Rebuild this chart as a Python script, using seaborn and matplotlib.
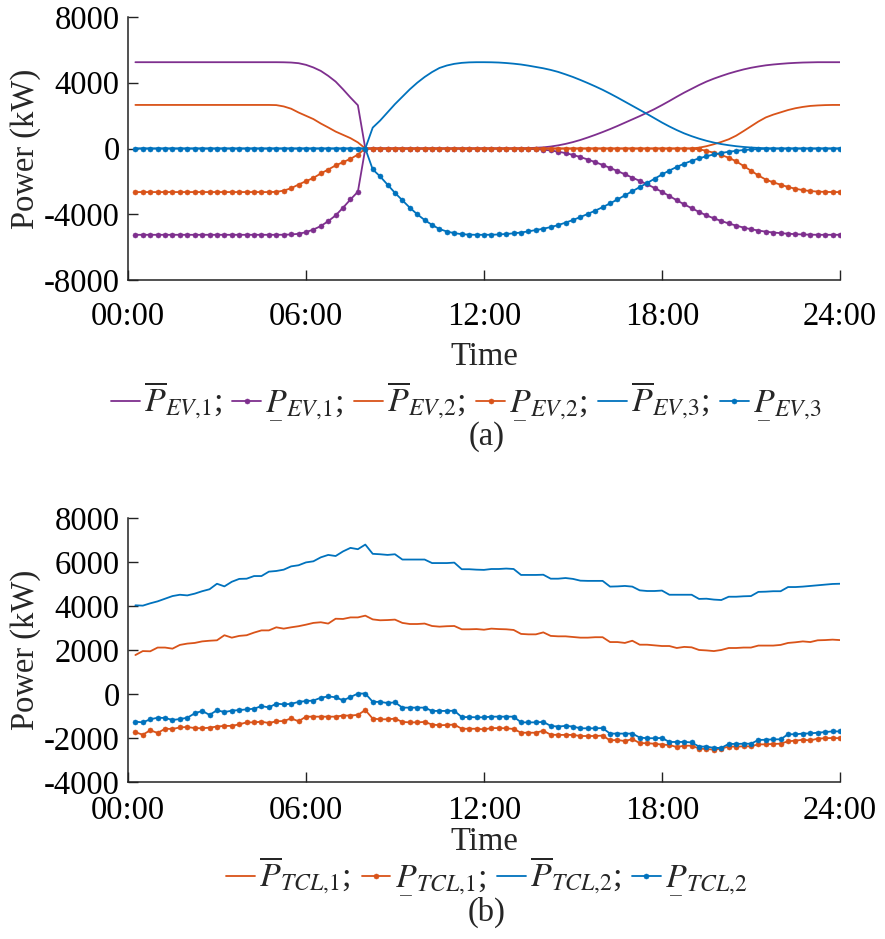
import numpy as np
import matplotlib
matplotlib.use("Agg")
import matplotlib.pyplot as plt
import seaborn as sns

# 15-min time steps, 96 per day (hours)
t = np.arange(1, 97) * 0.25

# ---- (a) EV bounds, kW ----
ev1_up = [5250, 5250, 5250, 5250, 5250, 5250, 5250, 5250,
          5250, 5250, 5250, 5250, 5250, 5250, 5250, 5250,
          5250, 5250, 5250, 5250, 5245, 5230, 5190, 5090,
          4930, 4720, 4420, 4070, 3600, 3100, 2630, 0,
          0, 0, 0, 0, 0, 0, 0, 0,
          0, 0, 0, 0, 0, 0, 0, 0,
          0, 0, 0, 5, 15, 25, 45, 70,
          120, 190, 280, 390, 520, 670, 830, 1000,
          1180, 1370, 1570, 1770, 1970, 2180, 2400, 2640,
          2890, 3150, 3400, 3630, 3860, 4070, 4250, 4410,
          4560, 4690, 4810, 4910, 4990, 5060, 5110, 5150,
          5185, 5210, 5230, 5240, 5250, 5250, 5250, 5250]
ev1_low = [-5250, -5250, -5250, -5250, -5250, -5250, -5250, -5250,
           -5250, -5250, -5250, -5250, -5250, -5250, -5250, -5250,
           -5250, -5250, -5250, -5250, -5245, -5230, -5190, -5090,
           -4930, -4720, -4420, -4070, -3600, -3100, -2630, 0,
           0, 0, 0, 0, 0, 0, 0, 0,
           0, 0, 0, 0, 0, 0, 0, 0,
           0, 0, 0, -5, -15, -25, -45, -70,
           -120, -190, -280, -390, -520, -670, -830, -1000,
           -1180, -1370, -1570, -1770, -1970, -2180, -2400, -2640,
           -2890, -3150, -3400, -3630, -3860, -4070, -4250, -4410,
           -4560, -4690, -4810, -4910, -4990, -5060, -5110, -5150,
           -5185, -5210, -5230, -5240, -5250, -5250, -5250, -5250]
ev2_up = [2650, 2650, 2650, 2650, 2650, 2650, 2650, 2650,
          2650, 2650, 2650, 2650, 2650, 2650, 2650, 2650,
          2650, 2650, 2650, 2640, 2560, 2420, 2190, 1990,
          1790, 1520, 1280, 1030, 830, 630, 370, 0,
          0, 0, 0, 0, 0, 0, 0, 0,
          0, 0, 0, 0, 0, 0, 0, 0,
          0, 0, 0, 0, 0, 0, 0, 0,
          0, 0, 0, 0, 0, 0, 0, 0,
          0, 0, 0, 0, 0, 0, 0, 0,
          0, 0, 0, 10, 50, 140, 260, 400,
          560, 780, 1060, 1350, 1640, 1890, 2060, 2200,
          2340, 2450, 2530, 2590, 2620, 2640, 2650, 2650]
ev2_low = [-2650, -2650, -2650, -2650, -2650, -2650, -2650, -2650,
           -2650, -2650, -2650, -2650, -2650, -2650, -2650, -2650,
           -2650, -2650, -2650, -2640, -2560, -2420, -2190, -1990,
           -1790, -1520, -1280, -1030, -830, -630, -370, 0,
           0, 0, 0, 0, 0, 0, 0, 0,
           0, 0, 0, 0, 0, 0, 0, 0,
           0, 0, 0, 0, 0, 0, 0, 0,
           0, 0, 0, 0, 0, 0, 0, 0,
           0, 0, 0, 0, 0, 0, 0, 0,
           0, 0, 0, -10, -50, -140, -260, -400,
           -560, -780, -1060, -1350, -1640, -1890, -2060, -2200,
           -2340, -2450, -2530, -2590, -2620, -2640, -2650, -2650]
ev3_up = [0, 0, 0, 0, 0, 0, 0, 0,
          0, 0, 0, 0, 0, 0, 0, 0,
          0, 0, 0, 0, 0, 0, 0, 0,
          0, 0, 0, 0, 0, 0, 0, 0,
          1270, 1700, 2200, 2700, 3150, 3600, 4000, 4350,
          4650, 4900, 5050, 5150, 5210, 5240, 5250, 5250,
          5245, 5230, 5200, 5160, 5110, 5040, 4960, 4880,
          4780, 4660, 4510, 4350, 4170, 3980, 3780, 3570,
          3340, 3100, 2850, 2600, 2350, 2100, 1840, 1580,
          1340, 1120, 920, 750, 600, 470, 360, 270,
          200, 140, 95, 60, 35, 20, 10, 0,
          0, 0, 0, 0, 0, 0, 0, 0]
ev3_low = [0, 0, 0, 0, 0, 0, 0, 0,
           0, 0, 0, 0, 0, 0, 0, 0,
           0, 0, 0, 0, 0, 0, 0, 0,
           0, 0, 0, 0, 0, 0, 0, 0,
           -1270, -1700, -2200, -2700, -3150, -3600, -4000, -4350,
           -4650, -4900, -5050, -5150, -5210, -5240, -5250, -5250,
           -5245, -5230, -5200, -5160, -5110, -5040, -4960, -4880,
           -4780, -4660, -4510, -4350, -4170, -3980, -3780, -3570,
           -3340, -3100, -2850, -2600, -2350, -2100, -1840, -1580,
           -1340, -1120, -920, -750, -600, -470, -360, -270,
           -200, -140, -95, -60, -35, -20, -10, 0,
           0, 0, 0, 0, 0, 0, 0, 0]

# ---- (b) TCL bounds, kW ----
tcl1_up = [1770, 1950, 1940, 2110, 2110, 2060, 2230, 2290,
           2320, 2390, 2420, 2440, 2670, 2560, 2640, 2670,
           2790, 2890, 2890, 3030, 2970, 3030, 3080, 3150,
           3230, 3260, 3200, 3420, 3410, 3480, 3480, 3560,
           3390, 3350, 3360, 3380, 3230, 3180, 3180, 3200,
           3090, 3060, 3080, 3090, 2940, 2940, 2950, 2920,
           2970, 2950, 2940, 2910, 2730, 2710, 2710, 2800,
           2640, 2620, 2620, 2590, 2560, 2560, 2580, 2580,
           2360, 2360, 2320, 2420, 2240, 2240, 2210, 2180,
           2180, 2090, 2140, 2120, 2000, 1980, 1950, 2000,
           2090, 2090, 2110, 2110, 2200, 2200, 2200, 2230,
           2320, 2350, 2390, 2360, 2440, 2450, 2470, 2450]
tcl1_low = [-1740, -1850, -1650, -1770, -1580, -1590, -1520, -1500,
            -1550, -1560, -1530, -1480, -1450, -1450, -1380, -1290,
            -1290, -1260, -1320, -1240, -1230, -1110, -1240, -1030,
            -1030, -1030, -1030, -1030, -980, -980, -950, -730,
            -1120, -1150, -1150, -1120, -1270, -1290, -1290, -1270,
            -1390, -1420, -1410, -1390, -1580, -1580, -1580, -1610,
            -1550, -1550, -1560, -1590, -1760, -1760, -1760, -1670,
            -1850, -1860, -1860, -1860, -1910, -1910, -1910, -1890,
            -2110, -2090, -2140, -2050, -2230, -2240, -2260, -2300,
            -2320, -2410, -2350, -2350, -2480, -2500, -2530, -2480,
            -2390, -2390, -2380, -2380, -2290, -2290, -2270, -2260,
            -2150, -2120, -2080, -2110, -2030, -2010, -2000, -2010]
tcl2_up = [4030, 4015, 4120, 4210, 4330, 4450, 4510, 4480,
           4560, 4670, 4760, 5010, 4890, 5100, 5230, 5240,
           5360, 5360, 5560, 5590, 5650, 5800, 5850, 5980,
           6030, 6210, 6320, 6270, 6480, 6640, 6580, 6790,
           6370, 6350, 6320, 6350, 6110, 6110, 6110, 6110,
           5950, 5950, 5950, 5970, 5670, 5670, 5650, 5640,
           5680, 5680, 5700, 5680, 5410, 5410, 5410, 5420,
           5240, 5240, 5270, 5230, 5150, 5140, 5140, 5140,
           4880, 4890, 4910, 4880, 4710, 4680, 4680, 4700,
           4510, 4510, 4510, 4510, 4320, 4330, 4290, 4270,
           4420, 4420, 4440, 4450, 4640, 4650, 4670, 4670,
           4860, 4860, 4880, 4910, 4940, 4970, 5000, 5010]
tcl2_low = [-1260, -1290, -1150, -1080, -1090, -1180, -1140, -1080,
            -880, -770, -950, -740, -820, -760, -730, -700,
            -670, -550, -610, -440, -470, -450, -360, -320,
            -300, -170, -110, -150, -290, -140, 20, 20,
            -355, -360, -410, -380, -620, -620, -620, -620,
            -770, -770, -770, -760, -1050, -1050, -1060, -1060,
            -1030, -1030, -1030, -1030, -1290, -1290, -1290, -1270,
            -1450, -1480, -1450, -1480, -1560, -1560, -1560, -1550,
            -1800, -1800, -1800, -1800, -1980, -2010, -2010, -2000,
            -2180, -2180, -2180, -2200, -2390, -2390, -2450, -2450,
            -2270, -2270, -2260, -2260, -2090, -2080, -2060, -2060,
            -1830, -1830, -1800, -1790, -1760, -1730, -1700, -1700]

time_ticks = [0, 6, 12, 18, 24]
time_labels = ["00:00", "06:00", "12:00", "18:00", "24:00"]

purple = "#7E2F8E"
orange = "#D95319"
blue = "#0072BD"

sns.set_style("ticks")
plt.rcParams["font.family"] = ["Liberation Serif", "DejaVu Serif"]
plt.rcParams["mathtext.fontset"] = "stix"
plt.rcParams["axes.unicode_minus"] = False

fig = plt.figure(figsize=(8.85, 9.39), dpi=100)
ax1 = fig.add_axes([0.1446, 0.7018, 0.8045, 0.2801])
ax2 = fig.add_axes([0.1446, 0.1672, 0.8045, 0.2812])

lw = 1.3
ms = 3.6


def up_line(ax, y, c, lab):
    sns.lineplot(x=t, y=y, ax=ax, color=c, lw=lw, label=lab, legend=False)


def low_line(ax, y, c, lab):
    sns.lineplot(x=t, y=y, ax=ax, color=c, lw=lw, marker="o", markersize=ms,
                 markeredgecolor=c, markeredgewidth=0.4, label=lab, legend=False)


up_line(ax1, ev1_up, purple, r"$\overline{P}_{EV{,}1}$;")
low_line(ax1, ev1_low, purple, r"$\underset{\_}{P}_{EV{,}1}$;")
up_line(ax1, ev2_up, orange, r"$\overline{P}_{EV{,}2}$;")
low_line(ax1, ev2_low, orange, r"$\underset{\_}{P}_{EV{,}2}$;")
up_line(ax1, ev3_up, blue, r"$\overline{P}_{EV{,}3}$;")
low_line(ax1, ev3_low, blue, r"$\underset{\_}{P}_{EV{,}3}$")

up_line(ax2, tcl1_up, orange, r"$\overline{P}_{TCL{,}1}$;")
low_line(ax2, tcl1_low, orange, r"$\underset{\_}{P}_{TCL{,}1}$;")
up_line(ax2, tcl2_up, blue, r"$\overline{P}_{TCL{,}2}$;")
low_line(ax2, tcl2_low, blue, r"$\underset{\_}{P}_{TCL{,}2}$")

fs = 23.5
panels = [(ax1, (-8000, 8000), np.arange(-8000, 8001, 4000), 15.5, 7),
          (ax2, (-4000, 8000), np.arange(-4000, 8001, 2000), 9.5, 0.5)]
for ax, lim, ticks, xpad, lpad in panels:
    ax.set_xlim(0, 24)
    ax.set_ylim(*lim)
    ax.set_yticks(ticks)
    ax.set_xticks(time_ticks)
    ax.set_xticklabels(time_labels)
    ax.tick_params(direction="in", length=7, width=1, labelsize=fs, pad=6,
                   colors="#222222", labelcolor="black")
    ax.tick_params(axis="x", pad=xpad)
    for s in ["top", "right"]:
        ax.spines[s].set_visible(False)
    for s in ["left", "bottom"]:
        ax.spines[s].set_linewidth(1.1)
        ax.spines[s].set_color("#222222")
    ax.set_xlabel("Time", fontsize=fs, labelpad=lpad)
    ax.set_ylabel("Power (kW)", fontsize=fs, labelpad=2)

leg_kw = dict(loc="center", ncol=6, frameon=False, fontsize=24.5,
              handlelength=0.85, handletextpad=0.12, columnspacing=0.3)
h1, l1 = ax1.get_legend_handles_labels()
fig.legend(h1, l1, bbox_to_anchor=(466 / 885, 1 - 402 / 939), **leg_kw)
h2, l2 = ax2.get_legend_handles_labels()
fig.legend(h2, l2, bbox_to_anchor=(487 / 885, 1 - 877 / 939), **leg_kw)

fig.text(487 / 885, 1 - 437 / 939, "(a)", ha="center", va="center", fontsize=fs)
fig.text(487 / 885, 1 - 912 / 939, "(b)", ha="center", va="center", fontsize=fs)

fig.savefig("out.png", dpi=100)
